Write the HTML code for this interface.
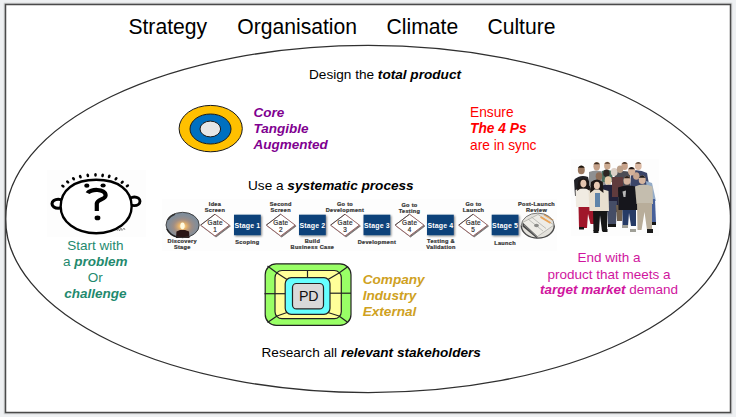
<!DOCTYPE html>
<html><head><meta charset="utf-8">
<style>
html,body{margin:0;padding:0;background:#eef0f2;}
body{width:736px;height:417px;overflow:hidden;position:relative;}
svg{position:absolute;left:0;top:0;}
text{font-family:"Liberation Sans",sans-serif;}
.b{font-weight:bold;font-style:italic;}
</style></head><body>
<svg width="736" height="417" viewBox="0 0 736 417">
<defs>
  <clipPath id="frame"><rect x="5.5" y="4.5" width="725" height="408"/></clipPath>
  <radialGradient id="glow" cx="0.5" cy="0.55" r="0.55">
    <stop offset="0" stop-color="#fff4c8" stop-opacity="1"/>
    <stop offset="0.2" stop-color="#f0b868" stop-opacity="0.95"/>
    <stop offset="0.5" stop-color="#c09070" stop-opacity="0.5"/>
    <stop offset="1" stop-color="#8090a0" stop-opacity="0"/>
  </radialGradient>
  <radialGradient id="money" cx="0.5" cy="0.5" r="0.6">
    <stop offset="0" stop-color="#d8d8d0"/>
    <stop offset="0.7" stop-color="#a8a8a0"/>
    <stop offset="1" stop-color="#505050"/>
  </radialGradient>
  <filter id="soft2" x="-10%" y="-10%" width="120%" height="120%"><feGaussianBlur stdDeviation="0.45"/></filter>
  <filter id="soft" x="-10%" y="-10%" width="120%" height="120%"><feGaussianBlur stdDeviation="0.55"/></filter>
  <filter id="sh2" x="-20%" y="-20%" width="150%" height="150%">
    <feGaussianBlur in="SourceAlpha" stdDeviation="0.7"/>
    <feOffset dx="1.3" dy="1.3"/>
    <feComponentTransfer><feFuncA type="linear" slope="0.55"/></feComponentTransfer>
    <feMerge><feMergeNode/><feMergeNode in="SourceGraphic"/></feMerge>
  </filter>
  <filter id="sh" x="-20%" y="-20%" width="150%" height="150%">
    <feGaussianBlur in="SourceAlpha" stdDeviation="0.8"/>
    <feOffset dx="1.2" dy="1.2"/>
    <feComponentTransfer><feFuncA type="linear" slope="0.5"/></feComponentTransfer>
    <feMerge><feMergeNode/><feMergeNode in="SourceGraphic"/></feMerge>
  </filter>
</defs>
<!-- frame -->
<rect x="5.5" y="4.5" width="725" height="408" fill="none" stroke="#cfd0d2" stroke-width="3.6" filter="url(#soft)"/>
<rect x="5.5" y="4.5" width="725" height="408" fill="#ffffff" stroke="#4a4a4a" stroke-width="1.5"/>

<!-- titles -->
<g font-size="21.15" fill="#000">
  <text x="128.4" y="34.3">Strategy</text>
  <text x="237.2" y="34.3">Organisation</text>
  <text x="386.5" y="34.3">Climate</text>
  <text x="487.4" y="34.3">Culture</text>
</g>

<!-- big ellipse -->
<g clip-path="url(#frame)">
  <ellipse cx="368.2" cy="219" rx="362.6" ry="173.6" fill="none" stroke="#303030" stroke-width="1.3"/>
</g>

<!-- text blocks -->
<g font-size="13.62" fill="#000">
  <text x="309" y="78.5">Design the <tspan class="b">total product</tspan></text>
  <text x="248" y="190">Use a <tspan class="b">systematic process</tspan></text>
  <text x="261.5" y="357.2">Research all <tspan class="b">relevant stakeholders</tspan></text>
</g>
<g font-size="13.5" fill="#800090" class="b">
  <text x="253.5" y="116.9">Core</text>
  <text x="253.5" y="133.1">Tangible</text>
  <text x="253.5" y="149.3">Augmented</text>
</g>
<g font-size="13.75" fill="#ff0000">
  <text x="470" y="116.8">Ensure</text>
  <text x="470" y="132.9" class="b">The 4 Ps</text>
  <text x="470" y="149.5">are in sync</text>
</g>
<g font-size="13.5" fill="#1f8a6e" text-anchor="middle">
  <text x="95.3" y="249.6">Start with</text>
  <text x="95.3" y="266">a <tspan class="b">problem</tspan></text>
  <text x="95.3" y="282.2">Or</text>
  <text x="95.3" y="298.1" class="b">challenge</text>
</g>
<g font-size="13.6" fill="#cfa122" class="b">
  <text x="362.7" y="283.8">Company</text>
  <text x="362.7" y="300.2">Industry</text>
  <text x="362.7" y="316.4">External</text>
</g>
<g font-size="13.5" fill="#d0159e" text-anchor="middle">
  <text x="609" y="262.4">End with a</text>
  <text x="609" y="278.7">product that meets a</text>
  <text x="609" y="293.9"><tspan class="b">target market</tspan> demand</text>
</g>

<!-- process diagram -->
<rect x="162" y="199" width="395" height="52" fill="#fdfdfd"/>
<g>
<ellipse cx="182.6" cy="225" rx="16.6" ry="12.7" fill="#7e8c9a"/>
<ellipse cx="182.6" cy="225" rx="16.6" ry="12.7" fill="url(#glow)"/>
<path d="M176 238 L176.5 231.5 L180 230 L185 230 L189 231.5 L189.5 238 Z" fill="#2a1414" filter="url(#soft)"/>
<path d="M176.5 232 L189 232" stroke="#7a2020" stroke-width="1" filter="url(#soft)"/>
<ellipse cx="182.5" cy="225.8" rx="2.2" ry="3.4" fill="#fffbe0" filter="url(#soft)"/>
<path d="M166 225 A16.6 12.7 0 0 1 182.6 212.3 A16.6 12.7 0 0 1 199.2 225 A16.6 12.7 0 0 1 182.6 237.7 A16.6 12.7 0 0 1 166 225 Z" fill="none" stroke="#3a3a3a" stroke-width="0.9"/>
<path d="M167 229 A16.6 12.7 0 0 0 178 237.3" fill="none" stroke="#222" stroke-width="1.6" filter="url(#soft)"/>
<path d="M167.5 220 A16.6 12.7 0 0 1 175 214" fill="none" stroke="#333" stroke-width="1.4" filter="url(#soft)"/>
</g>
<g>
<ellipse cx="537.8" cy="225.6" rx="16.5" ry="12.5" fill="#e4e2dc"/>
<g filter="url(#soft)">
<path d="M522.5 222.5 L538 214.5 L554 225 L537.5 236.5 Z" fill="#eeece6" stroke="#9a9a96" stroke-width="0.6"/>
<path d="M522.5 222.5 L537.5 236.5 L537 238.5 L522.5 226.5 Z" fill="#4a4a4a"/>
<path d="M524 225 L537 236.8" stroke="#bbb" stroke-width="0.5"/>
<path d="M528 219 L543 231 M531.5 217 L546 228.5" stroke="#a8a8a4" stroke-width="0.7"/>
<path d="M540.5 217 L550.5 223 M544 214.5 L553 220" stroke="#eba458" stroke-width="1.7"/>
<path d="M547 215 L553 219" stroke="#fff" stroke-width="1"/>
<ellipse cx="536.5" cy="225.5" rx="2.4" ry="1.7" fill="#8c8c88"/>
</g>
<path d="M521.3 225.6 A16.5 12.5 0 0 1 554.3 225.6" fill="none" stroke="#777" stroke-width="1"/>
<path d="M554.3 225.6 A16.5 12.5 0 0 1 521.3 225.6" fill="none" stroke="#4a4a4a" stroke-width="1.4"/>
</g>
<rect x="234" y="214.7" width="26.8" height="20.5" fill="#10427a" filter="url(#sh)"/>
<text x="247.4" y="228.1" font-size="7" font-weight="bold" letter-spacing="0.15" fill="#fff" text-anchor="middle">Stage 1</text>
<rect x="299" y="214.7" width="26.8" height="20.5" fill="#10427a" filter="url(#sh)"/>
<text x="312.4" y="228.1" font-size="7" font-weight="bold" letter-spacing="0.15" fill="#fff" text-anchor="middle">Stage 2</text>
<rect x="363.5" y="214.7" width="26.8" height="20.5" fill="#10427a" filter="url(#sh)"/>
<text x="376.9" y="228.1" font-size="7" font-weight="bold" letter-spacing="0.15" fill="#fff" text-anchor="middle">Stage 3</text>
<rect x="427" y="214.7" width="26.8" height="20.5" fill="#10427a" filter="url(#sh)"/>
<text x="440.4" y="228.1" font-size="7" font-weight="bold" letter-spacing="0.15" fill="#fff" text-anchor="middle">Stage 4</text>
<rect x="491.7" y="214.7" width="26.8" height="20.5" fill="#10427a" filter="url(#sh)"/>
<text x="505.1" y="228.1" font-size="7" font-weight="bold" letter-spacing="0.15" fill="#fff" text-anchor="middle">Stage 5</text>
<path d="M200.6 225.1 L215 214.2 L229.4 225.1 L215 236.0 Z" fill="#fff" stroke="#8c5555" stroke-width="0.85" filter="url(#sh2)"/>
<path d="M200.6 225.1 L215 214.2" stroke="#444" stroke-width="0.85"/>
<text x="215.2" y="224.8" font-size="6.4" letter-spacing="0.35" fill="#2e2e2e" stroke="#2e2e2e" stroke-width="0.2" text-anchor="middle">Gate</text>
<text x="215" y="231.8" font-size="6.4" fill="#2e2e2e" stroke="#2e2e2e" stroke-width="0.2" text-anchor="middle">1</text>
<path d="M266.3 225.1 L280.7 214.2 L295.09999999999997 225.1 L280.7 236.0 Z" fill="#fff" stroke="#8c5555" stroke-width="0.85" filter="url(#sh2)"/>
<path d="M266.3 225.1 L280.7 214.2" stroke="#444" stroke-width="0.85"/>
<text x="280.9" y="224.8" font-size="6.4" letter-spacing="0.35" fill="#2e2e2e" stroke="#2e2e2e" stroke-width="0.2" text-anchor="middle">Gate</text>
<text x="280.7" y="231.8" font-size="6.4" fill="#2e2e2e" stroke="#2e2e2e" stroke-width="0.2" text-anchor="middle">2</text>
<path d="M330.6 225.1 L345 214.2 L359.4 225.1 L345 236.0 Z" fill="#fff" stroke="#8c5555" stroke-width="0.85" filter="url(#sh2)"/>
<path d="M330.6 225.1 L345 214.2" stroke="#444" stroke-width="0.85"/>
<text x="345.2" y="224.8" font-size="6.4" letter-spacing="0.35" fill="#2e2e2e" stroke="#2e2e2e" stroke-width="0.2" text-anchor="middle">Gate</text>
<text x="345" y="231.8" font-size="6.4" fill="#2e2e2e" stroke="#2e2e2e" stroke-width="0.2" text-anchor="middle">3</text>
<path d="M395.1 225.1 L409.5 214.2 L423.9 225.1 L409.5 236.0 Z" fill="#fff" stroke="#8c5555" stroke-width="0.85" filter="url(#sh2)"/>
<path d="M395.1 225.1 L409.5 214.2" stroke="#444" stroke-width="0.85"/>
<text x="409.7" y="224.8" font-size="6.4" letter-spacing="0.35" fill="#2e2e2e" stroke="#2e2e2e" stroke-width="0.2" text-anchor="middle">Gate</text>
<text x="409.5" y="231.8" font-size="6.4" fill="#2e2e2e" stroke="#2e2e2e" stroke-width="0.2" text-anchor="middle">4</text>
<path d="M458.7 225.1 L473.1 214.2 L487.5 225.1 L473.1 236.0 Z" fill="#fff" stroke="#8c5555" stroke-width="0.85" filter="url(#sh2)"/>
<path d="M458.7 225.1 L473.1 214.2" stroke="#444" stroke-width="0.85"/>
<text x="473.3" y="224.8" font-size="6.4" letter-spacing="0.35" fill="#2e2e2e" stroke="#2e2e2e" stroke-width="0.2" text-anchor="middle">Gate</text>
<text x="473.1" y="231.8" font-size="6.4" fill="#2e2e2e" stroke="#2e2e2e" stroke-width="0.2" text-anchor="middle">5</text>
<text x="215" y="206.1" font-size="5.6" font-weight="bold" letter-spacing="0.3" fill="#333" stroke="#333" stroke-width="0.22" text-anchor="middle">Idea</text>
<text x="215" y="211.7" font-size="5.6" font-weight="bold" letter-spacing="0.3" fill="#333" stroke="#333" stroke-width="0.22" text-anchor="middle">Screen</text>
<text x="280.7" y="206.1" font-size="5.6" font-weight="bold" letter-spacing="0.3" fill="#333" stroke="#333" stroke-width="0.22" text-anchor="middle">Second</text>
<text x="280.7" y="211.7" font-size="5.6" font-weight="bold" letter-spacing="0.3" fill="#333" stroke="#333" stroke-width="0.22" text-anchor="middle">Screen</text>
<text x="345" y="206.1" font-size="5.6" font-weight="bold" letter-spacing="0.3" fill="#333" stroke="#333" stroke-width="0.22" text-anchor="middle">Go to</text>
<text x="345" y="211.7" font-size="5.6" font-weight="bold" letter-spacing="0.3" fill="#333" stroke="#333" stroke-width="0.22" text-anchor="middle">Development</text>
<text x="409.5" y="206.9" font-size="5.6" font-weight="bold" letter-spacing="0.3" fill="#333" stroke="#333" stroke-width="0.22" text-anchor="middle">Go to</text>
<text x="409.5" y="212.5" font-size="5.6" font-weight="bold" letter-spacing="0.3" fill="#333" stroke="#333" stroke-width="0.22" text-anchor="middle">Testing</text>
<text x="473.5" y="206.1" font-size="5.6" font-weight="bold" letter-spacing="0.3" fill="#333" stroke="#333" stroke-width="0.22" text-anchor="middle">Go to</text>
<text x="473.5" y="211.7" font-size="5.6" font-weight="bold" letter-spacing="0.3" fill="#333" stroke="#333" stroke-width="0.22" text-anchor="middle">Launch</text>
<text x="536.5" y="206.1" font-size="5.6" font-weight="bold" letter-spacing="0.3" fill="#333" stroke="#333" stroke-width="0.22" text-anchor="middle">Post-Launch</text>
<text x="536.5" y="211.7" font-size="5.6" font-weight="bold" letter-spacing="0.3" fill="#333" stroke="#333" stroke-width="0.22" text-anchor="middle">Review</text>
<text x="182.3" y="243.2" font-size="5.6" font-weight="bold" letter-spacing="0.3" fill="#333" stroke="#333" stroke-width="0.22" text-anchor="middle">Discovery</text>
<text x="182.3" y="248.8" font-size="5.6" font-weight="bold" letter-spacing="0.3" fill="#333" stroke="#333" stroke-width="0.22" text-anchor="middle">Stage</text>
<text x="247.4" y="244.4" font-size="5.6" font-weight="bold" letter-spacing="0.3" fill="#333" stroke="#333" stroke-width="0.22" text-anchor="middle">Scoping</text>
<text x="312.4" y="243.2" font-size="5.6" font-weight="bold" letter-spacing="0.3" fill="#333" stroke="#333" stroke-width="0.22" text-anchor="middle">Build</text>
<text x="312.4" y="248.8" font-size="5.6" font-weight="bold" letter-spacing="0.3" fill="#333" stroke="#333" stroke-width="0.22" text-anchor="middle">Business Case</text>
<text x="376.9" y="244.4" font-size="5.6" font-weight="bold" letter-spacing="0.3" fill="#333" stroke="#333" stroke-width="0.22" text-anchor="middle">Development</text>
<text x="441" y="243.2" font-size="5.6" font-weight="bold" letter-spacing="0.3" fill="#333" stroke="#333" stroke-width="0.22" text-anchor="middle">Testing &amp;</text>
<text x="441" y="248.8" font-size="5.6" font-weight="bold" letter-spacing="0.3" fill="#333" stroke="#333" stroke-width="0.22" text-anchor="middle">Validation</text>
<text x="505.1" y="245" font-size="5.6" font-weight="bold" letter-spacing="0.3" fill="#333" stroke="#333" stroke-width="0.22" text-anchor="middle">Launch</text>
<!-- face -->
<rect x="47" y="170" width="99" height="67" fill="#fdfdfd"/>
<g fill="none" stroke="#000">
  <ellipse cx="58.2" cy="203.8" rx="6.2" ry="4.5" stroke-width="3.1"/>
  <ellipse cx="134.4" cy="201.3" rx="5.6" ry="4.3" stroke-width="2.9"/>
  <path d="M60.650000000000006 206.5 C60.650000000000006 189.95 74.14 179.8 96.15 179.8 C118.16 179.8 131.65 189.95 131.65 206.5 C131.65 221.72 116.39 233.2 96.15 233.2 C75.92 233.2 60.650000000000006 221.72 60.650000000000006 206.5 Z" fill="#fff" stroke-width="2.4"/>
  <path d="M87.6 193.2 C89.5 188.8, 106 188.2, 105.6 195.6 C105.2 199.6, 97.2 199.2, 96.8 203.5 L96.8 211" stroke-width="4.2"/>
</g>
<g fill="#000">
  <ellipse cx="86.8" cy="185.7" rx="2.6" ry="2.1"/>
  <ellipse cx="103.1" cy="185.5" rx="2.6" ry="2.1"/>
  <ellipse cx="97.5" cy="217.9" rx="2.9" ry="2.4"/>
  <ellipse cx="62.9" cy="186.1" rx="1.9" ry="1.35" transform="rotate(-148.0 62.9 186.1)"/><ellipse cx="67.7" cy="181.9" rx="1.9" ry="1.35" transform="rotate(-138.5 67.7 181.9)"/><ellipse cx="73.5" cy="178.7" rx="1.9" ry="1.35" transform="rotate(-128.4 73.5 178.7)"/><ellipse cx="80.3" cy="176.7" rx="1.9" ry="1.35" transform="rotate(-117.0 80.3 176.7)"/><ellipse cx="87.8" cy="175.4" rx="1.9" ry="1.35" transform="rotate(-103.9 87.8 175.4)"/><ellipse cx="95.5" cy="174.8" rx="1.9" ry="1.35" transform="rotate(-90.0 95.5 174.8)"/><ellipse cx="102.6" cy="175.4" rx="1.9" ry="1.35" transform="rotate(-77.1 102.6 175.4)"/><ellipse cx="109.2" cy="176.4" rx="1.9" ry="1.35" transform="rotate(-65.5 109.2 176.4)"/><ellipse cx="116" cy="178.7" rx="1.9" ry="1.35" transform="rotate(-53.6 116 178.7)"/><ellipse cx="122.2" cy="182.2" rx="1.9" ry="1.35" transform="rotate(-42.3 122.2 182.2)"/><ellipse cx="127.4" cy="185.8" rx="1.9" ry="1.35" transform="rotate(-33.0 127.4 185.8)"/>
</g>
<path d="M117 231 l1.5 -2.5 l1 2.5 l1.5 -3 l1 2.5 l2 -2.5 l1 2" fill="none" stroke="#555" stroke-width="0.6"/>

<!-- people -->
<rect x="571" y="159" width="88" height="77" fill="#fdfdfd"/>
<g filter="url(#soft2)">
  <!-- back row bodies -->
  <path d="M574 180 Q580 174 588 177 L592 194 L575 196 Z" fill="#202026"/>
  <path d="M589 172 Q596 169 604 172 L606 186 L589 186 Z" fill="#8e9092"/>
  <path d="M602 171 Q607 169 612 171 L613 182 L602 182 Z" fill="#4a6e5e"/>
  <path d="M615 172 Q622 170 630 172 L630 186 L614 186 Z" fill="#4e4e54"/>
  <path d="M631 171 Q639 169 647 173 L650 190 L630 190 Z" fill="#3a4468"/>
  <path d="M646 181 L652 183 L656 201 L648 201 Z" fill="#94acc8"/>
  <!-- back row heads -->
  <ellipse cx="581.3" cy="170" rx="3.5" ry="4.2" fill="#9a7860"/>
  <path d="M577.9 167.7 Q581.3 163.2 584.7 167.7 Z" fill="#1e1610"/>
  <ellipse cx="596.7" cy="166.2" rx="3.3" ry="4.2" fill="#c4a088"/>
  <path d="M593.6 164.2 Q596.7 160.4 599.8 164.2 Z" fill="#3e2e22"/>
  <ellipse cx="607.3" cy="165.7" rx="3.2" ry="4" fill="#ccaa90"/>
  <path d="M604.3 163.7 Q607.3 160.4 610.3 163.7 Z" fill="#5a4030"/>
  <ellipse cx="624.6" cy="166" rx="3.3" ry="4" fill="#c8a28a"/>
  <path d="M621.6 163.7 Q624.6 160.4 627.6 163.7 Z" fill="#3e2e22"/>
  <ellipse cx="638.3" cy="166" rx="3.4" ry="4" fill="#dcbaa4"/>
  <path d="M635.2 163.7 Q638.3 160.4 641.4 163.7 Z" fill="#5a4838"/>
  <!-- middle row -->
  <ellipse cx="599" cy="176.3" rx="3.3" ry="4" fill="#8e6e58"/>
  <ellipse cx="606.4" cy="173.2" rx="3.2" ry="3.8" fill="#2e2624"/>
  <ellipse cx="614.2" cy="172" rx="3.4" ry="4" fill="#dccfc6"/>
  <ellipse cx="620" cy="169.2" rx="3.2" ry="3.8" fill="#bca08a"/>
  <ellipse cx="631.6" cy="171.2" rx="3.6" ry="4.2" fill="#d4b29a"/>
  <path d="M628.3 169.2 Q631.6 164.9 634.9 169.2 Z" fill="#1c1818"/>
  <ellipse cx="636.3" cy="176" rx="3.2" ry="3.8" fill="#c8a690"/>
  <path d="M600 186 Q608 183 618 186 L619 212 L600 212 Z" fill="#20243a"/>
  <path d="M612 177 L623 177 L623 197 L612 197 Z" fill="#603a3e"/>
  <ellipse cx="608.2" cy="180.4" rx="3.5" ry="4.2" fill="#e6caa8"/>
  <!-- legs behind -->
  <path d="M607 201 L617 201 L616 225 L608 225 Z" fill="#444e66"/>
  <path d="M616 205 L623 205 L622 221 L617 221 Z" fill="#706050"/>
  <path d="M647 199 L655 199 L656 223 L649 223 Z" fill="#46609a"/>
  <rect x="649" y="222" width="7" height="3" fill="#151515"/>
  <rect x="608" y="224" width="8" height="3" fill="#151515"/>
  <!-- front: woman 1 -->
  <path d="M578.5 206 L595 206 L595 224 L590.5 224 L588 214 L587 228 L579 228 Z" fill="#a0182a"/>
  <path d="M575.5 190 Q583 186.5 591 190 L591.5 207 L576 207 Z" fill="#f0ebe2"/>
  <path d="M578.5 181 Q583.4 176.5 588.5 181 L590 191 L586 188.5 L580.5 188.5 L577 191 Z" fill="#1e1612"/>
  <ellipse cx="583.4" cy="183.6" rx="3" ry="3.8" fill="#e4c4ae"/>
  <rect x="579" y="227" width="5" height="2.5" fill="#151515"/>
  <!-- woman 2 -->
  <path d="M593 207 L607.5 207 L607 231 L602 231 L600 215 L599 231 L593.5 231 Z" fill="#121214"/>
  <path d="M588.5 191 Q598 187 608.5 191 L609 211 L589.5 211 Z" fill="#e8dfd0"/>
  <path d="M595 193 L600 193 L600 207 L595 207 Z" fill="#5e84aa"/>
  <path d="M591 182 Q596.9 177 602.8 182 L603.5 193 L599 189.5 L594.5 189.5 L590 193 Z" fill="#1e1612"/>
  <ellipse cx="596.9" cy="185.5" rx="3" ry="3.8" fill="#e8cab4"/>
  <rect x="593.5" y="230" width="5" height="3" fill="#151515"/><rect x="602.5" y="229" width="5" height="3" fill="#151515"/>
  <!-- man black -->
  <path d="M622.5 205 L636 205 L636 226 L631 226 L629 213 L628 226 L622.5 226 Z" fill="#283a66"/>
  <path d="M618 187.5 Q628 183.5 638.5 187.5 L639 210 L618.5 210 Z" fill="#18181c"/>
  <path d="M622.5 191.5 L626 190.5 L625.5 197 L623.5 197 Z" fill="#b8b8b8"/>
  <ellipse cx="627" cy="180.5" rx="3.5" ry="4.3" fill="#d6b6a0"/>
  <path d="M623.6 178.2 Q627.0 173.7 630.4 178.2 Z" fill="#2e241c"/>
  <rect x="622" y="225" width="6" height="3" fill="#a0a098"/><rect x="630" y="229" width="6" height="3" fill="#a0a098"/>
  <!-- man beige -->
  <path d="M635 186.5 Q643 182.5 652.5 186.5 L653 204 L636.5 204 Z" fill="#c4bdae"/>
  <path d="M637 203 L652 203 L652 230 L647 230 L644.5 212 L641.5 230 L637.5 230 Z" fill="#b8ad9a"/>
  <ellipse cx="642.2" cy="179.8" rx="3.5" ry="4.3" fill="#d6b6a0"/>
  <path d="M638.7 177.7 Q642.2 172.7 645.7 177.7 Z" fill="#1e1a1a"/>
  <rect x="647" y="229" width="6" height="4" fill="#1e1e1e"/>
</g>

<!-- target circles -->
<ellipse cx="210.7" cy="128.6" rx="31.6" ry="23.2" fill="#ffc000" stroke="#1a1a1a" stroke-width="1"/>
<ellipse cx="210.5" cy="129" rx="20.5" ry="15" fill="#0070c0" stroke="#1a1a1a" stroke-width="1"/>
<ellipse cx="210.3" cy="129" rx="10.3" ry="7.9" fill="#e6e6e6" stroke="#1a1a1a" stroke-width="1"/>

<!-- PD chip -->
<g stroke="#222" stroke-width="1.2">
  <rect x="265.2" y="263.8" width="85.8" height="61.6" rx="11" fill="#99ff66"/>
  <rect x="275" y="270.5" width="66.3" height="48.2" rx="7" fill="#ffff99"/>
  <line x1="267.5" y1="266" x2="277" y2="273"/>
  <line x1="348" y1="266.5" x2="339" y2="273"/>
  <line x1="267.5" y1="322.5" x2="277" y2="316"/>
  <line x1="348" y1="322.5" x2="339" y2="316"/>
  <line x1="277" y1="273" x2="287" y2="279.5"/>
  <line x1="339" y1="273" x2="328" y2="279.5"/>
  <line x1="277" y1="316" x2="287" y2="312.5"/>
  <line x1="339" y1="316" x2="328" y2="312.5"/>
  <line x1="264.5" y1="293.7" x2="286" y2="293.7"/>
  <line x1="329" y1="293.2" x2="351" y2="293.2"/>
  <line x1="307.5" y1="270.5" x2="307.5" y2="278"/>
  <rect x="285.2" y="277.7" width="44.8" height="36.6" rx="6" fill="#66ffff"/>
  <rect x="292.5" y="283.5" width="31" height="25.4" rx="4" fill="#d9d9d9"/>
</g>
<text x="298.9" y="300.8" font-size="14.2" fill="#111">PD</text>

</svg>
</body></html>
